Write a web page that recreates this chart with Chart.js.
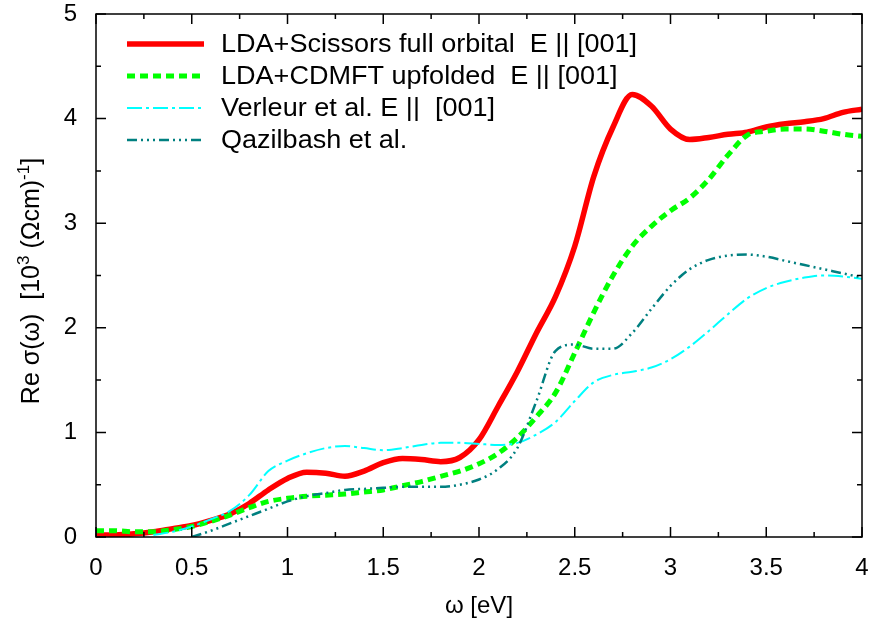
<!DOCTYPE html>
<html>
<head>
<meta charset="utf-8">
<script src="https://cdn.jsdelivr.net/npm/chart.js@4.4.1/dist/chart.umd.min.js"></script>
<style>
  html, body { margin: 0; padding: 0; background: #fff; }
  #wrap { width: 872px; height: 624px; }
</style>
</head>
<body>
<div id="wrap"><canvas id="sigma" width="872" height="624"></canvas></div>
<script>
// photon energy grid (eV)
var energy = [0, 0.1, 0.2, 0.3, 0.4, 0.5, 0.6, 0.7, 0.8, 0.9,
  1.0, 1.1, 1.2, 1.3, 1.4, 1.5, 1.6, 1.7, 1.8, 1.9,
  2.0, 2.1, 2.2, 2.3, 2.4, 2.5, 2.6, 2.7, 2.8, 2.9,
  3.0, 3.1, 3.2, 3.3, 3.4, 3.5, 3.6, 3.7, 3.8, 3.9, 4.0];

// Re sigma, 10^3 (Ohm cm)^-1
var scissors = [0.02, 0.02, 0.03, 0.05, 0.08, 0.11, 0.16, 0.22, 0.32, 0.45,
  0.56, 0.62, 0.61, 0.58, 0.63, 0.71, 0.75, 0.74, 0.72, 0.76,
  0.93, 1.25, 1.58, 1.95, 2.3, 2.78, 3.45, 3.92, 4.23, 4.12,
  3.9, 3.8, 3.82, 3.85, 3.87, 3.92, 3.95, 3.97, 4.0, 4.06, 4.09];
var cdmft = [0.06, 0.06, 0.05, 0.05, 0.07, 0.1, 0.15, 0.21, 0.28, 0.34,
  0.37, 0.39, 0.4, 0.41, 0.43, 0.45, 0.49, 0.53, 0.58, 0.63,
  0.7, 0.8, 0.95, 1.15, 1.38, 1.76, 2.15, 2.5, 2.78, 2.97,
  3.12, 3.24, 3.42, 3.65, 3.84, 3.88, 3.9, 3.9, 3.88, 3.85, 3.83];
var verleur = [null, null, null, 0.02, 0.05, 0.1, 0.17, 0.25, 0.4, 0.63,
  0.73, 0.8, 0.85, 0.87, 0.85, 0.83, 0.85, 0.88, 0.9, 0.9,
  0.89, 0.88, 0.9, 0.98, 1.1, 1.3, 1.48, 1.55, 1.58, 1.62,
  1.7, 1.82, 1.97, 2.13, 2.28, 2.38, 2.44, 2.48, 2.5, 2.49, 2.47];
var qazilbash = [null, null, null, null, null, 0.0, 0.06, 0.13, 0.2, 0.27,
  0.34, 0.39, 0.42, 0.45, 0.46, 0.47, 0.48, 0.48, 0.48, 0.5,
  0.55, 0.65, 0.85, 1.3, 1.78, 1.84, 1.8, 1.8, 1.95, 2.18,
  2.4, 2.56, 2.65, 2.69, 2.7, 2.68, 2.64, 2.6, 2.56, 2.52, 2.48];

var xTicks = [0, 0.5, 1, 1.5, 2, 2.5, 3, 3.5, 4];
var yTicks = [0, 1, 2, 3, 4, 5];

function pts(vals) {
  return energy.map(function (e, i) { return { x: e, y: vals[i] }; });
}

var font = "'Liberation Sans', Arial, sans-serif";

// gnuplot style: box round the plot, ticks pointing inwards on all sides
var framePlugin = {
  id: "frame",
  afterDraw: function (chart) {
    var ctx = chart.ctx, a = chart.chartArea;
    var xs = chart.scales.x, ys = chart.scales.y;
    ctx.save();
    ctx.strokeStyle = "#000";
    ctx.lineWidth = 1.5;
    ctx.beginPath();
    for (var v = 0; v <= 4.001; v += 0.25) {
      var px = xs.getPixelForValue(v);
      var len = Math.abs(v * 2 - Math.round(v * 2)) < 0.01 ? 10 : 5;
      ctx.moveTo(px, a.bottom); ctx.lineTo(px, a.bottom - len);
      ctx.moveTo(px, a.top); ctx.lineTo(px, a.top + len);
    }
    for (var w = 0; w <= 5.001; w += 0.5) {
      var py = ys.getPixelForValue(w);
      var l2 = Math.abs(w - Math.round(w)) < 0.01 ? 10 : 5;
      ctx.moveTo(a.left, py); ctx.lineTo(a.left + l2, py);
      ctx.moveTo(a.right, py); ctx.lineTo(a.right - l2, py);
    }
    ctx.stroke();
    ctx.strokeRect(a.left, a.top, a.right - a.left, a.bottom - a.top);

    // y axis title with real superscripts
    var parts = [["Re σ(ω)  [10", 0], ["3", 1], [" (Ωcm)", 0], ["-1", 1], ["]", 0]];
    var big = "25px " + font, small = "17px " + font;
    var total = 0;
    parts.forEach(function (p) {
      ctx.font = p[1] ? small : big;
      p.push(ctx.measureText(p[0]).width);
      total += p[2];
    });
    ctx.translate(39, 281);
    ctx.rotate(-Math.PI / 2);
    ctx.fillStyle = "#000";
    ctx.textBaseline = "alphabetic";
    var x = -total / 2;
    parts.forEach(function (p) {
      ctx.font = p[1] ? small : big;
      ctx.fillText(p[0], x, p[1] ? -10 : 0);
      x += p[2];
    });
    ctx.restore();
  }
};

// key in the upper left corner, inside the plot
var keyPlugin = {
  id: "key",
  afterDatasetsDraw: function (chart) {
    var ctx = chart.ctx;
    ctx.save();
    ctx.font = "26px " + font;
    ctx.textBaseline = "alphabetic";
    ctx.fillStyle = "#000";
    chart.data.datasets.forEach(function (ds, i) {
      var y = 44 + i * 32;
      ctx.strokeStyle = ds.borderColor;
      ctx.lineWidth = ds.borderWidth;
      ctx.setLineDash(ds.borderDash || []);
      ctx.beginPath();
      ctx.moveTo(127, y);
      ctx.lineTo(204, y);
      ctx.stroke();
      ctx.setLineDash([]);
      // the original lettering is a little wider than Liberation Sans
      ctx.save();
      ctx.translate(221, y + 8);
      ctx.scale(1.04, 1);
      ctx.fillText(ds.label, 0, 0);
      ctx.restore();
    });
    ctx.restore();
  }
};

function noPad(s) {
  s.paddingTop = 0;
  s.paddingBottom = 0;
  s.paddingLeft = 0;
  s.paddingRight = 0;
}

var ctx = document.getElementById("sigma");
var myChart = new Chart(ctx, {
  type: "line",
  data: {
    datasets: [
      {
        label: "LDA+Scissors full orbital  E || [001]",
        data: pts(scissors),
        borderColor: "#ff0000",
        borderWidth: 5.5,
        order: 4,
      },
      {
        label: "LDA+CDMFT upfolded  E || [001]",
        data: pts(cdmft),
        borderColor: "#00ff00",
        borderWidth: 5,
        borderDash: [8, 5],
        order: 3,
      },
      {
        label: "Verleur et al. E ||  [001]",
        data: pts(verleur),
        borderColor: "#00ffff",
        borderWidth: 2,
        borderDash: [15, 4, 3, 4],
        order: 2,
      },
      {
        label: "Qazilbash et al.",
        data: pts(qazilbash),
        borderColor: "#008080",
        borderWidth: 2.5,
        borderDash: [10, 4, 2, 4, 2, 4, 2, 4],
        order: 1,
      },
    ],
  },
  options: {
    responsive: false,
    animation: false,
    spanGaps: false,
    layout: { padding: { top: 14, right: 10, left: 0, bottom: 0 } },
    elements: {
      point: { radius: 0 },
      line: { cubicInterpolationMode: "monotone", fill: false },
    },
    plugins: {
      legend: { display: false },
      tooltip: { enabled: false },
    },
    scales: {
      x: {
        type: "linear",
        min: 0,
        max: 4,
        afterFit: function (s) { s.height = 87; noPad(s); },
        afterBuildTicks: function (s) {
          s.ticks = xTicks.map(function (v) { return { value: v }; });
        },
        grid: { display: false, drawTicks: false },
        border: { display: false },
        ticks: {
          padding: 17,
          color: "#000",
          font: { family: font, size: 24 },
          maxRotation: 0,
          callback: function (v) { return String(v); },
        },
        title: {
          display: true,
          text: "ω [eV]",
          color: "#000",
          font: { family: font, size: 24 },
          padding: { top: 0, bottom: 3 },
        },
      },
      y: {
        type: "linear",
        min: 0,
        max: 5,
        afterFit: function (s) { s.width = 96; noPad(s); },
        afterBuildTicks: function (s) {
          s.ticks = yTicks.map(function (v) { return { value: v }; });
        },
        grid: { display: false, drawTicks: false },
        border: { display: false },
        ticks: {
          padding: 19,
          color: "#000",
          font: { family: font, size: 24 },
          callback: function (v) { return String(v); },
        },
        title: { display: false },
      },
    },
  },
  plugins: [framePlugin, keyPlugin],
});
</script>
</body>
</html>
